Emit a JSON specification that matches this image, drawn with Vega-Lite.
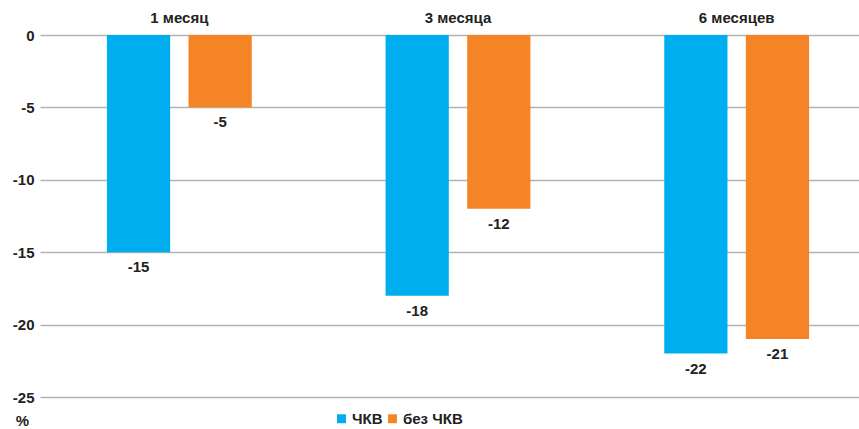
{
  "$schema": "https://vega.github.io/schema/vega-lite/v6.json",
  "autosize": "none",
  "width": 813,
  "height": 362,
  "padding": {"left": 46, "top": 35, "right": 0, "bottom": 32},
  "background": "white",
  "config": {
    "font": "Liberation Sans",
    "view": {"stroke": null},
    "locale": {
      "number": {"decimal": ".", "thousands": ",", "grouping": [3], "currency": ["", ""], "minus": "-"}
    }
  },
  "data": {
    "values": [
      {"period": "1 месяц", "group": "ЧКВ", "value": -15},
      {"period": "1 месяц", "group": "без ЧКВ", "value": -5},
      {"period": "3 месяца", "group": "ЧКВ", "value": -18},
      {"period": "3 месяца", "group": "без ЧКВ", "value": -12},
      {"period": "6 месяцев", "group": "ЧКВ", "value": -22},
      {"period": "6 месяцев", "group": "без ЧКВ", "value": -21}
    ]
  },
  "encoding": {
    "x": {
      "field": "period", "type": "nominal", "sort": null,
      "scale": {"paddingInner": 0, "paddingOuter": 0, "range": [-6, 830]},
      "axis": {
        "orient": "top", "title": null, "labelAngle": 0, "ticks": false, "domain": false,
        "labelFontWeight": "bold", "labelFontSize": 15, "labelColor": "#222222", "labelPadding": 10
      }
    },
    "xOffset": {
      "field": "group", "type": "nominal", "sort": null,
      "scale": {"paddingInner": 0.225, "paddingOuter": 0.82}
    },
    "y": {
      "field": "value", "type": "quantitative",
      "scale": {"domain": [-25, 0], "nice": false},
      "axis": {
        "values": [0, -5, -10, -15, -20, -25],
        "title": "%", "titleAngle": 0, "titleX": -24, "titleY": 385,
        "titleAlign": "center", "titleBaseline": "middle",
        "titleFontSize": 15, "titleFontWeight": "bold", "titleColor": "#222222",
        "ticks": false, "domain": false,
        "labelFontWeight": "bold", "labelFontSize": 15, "labelColor": "#222222", "labelPadding": 12,
        "gridColor": "#b3b3b3", "gridWidth": 1.5
      }
    }
  },
  "layer": [
    {
      "mark": {"type": "bar"},
      "encoding": {
        "color": {
          "field": "group", "type": "nominal", "sort": null,
          "scale": {"domain": ["ЧКВ", "без ЧКВ"], "range": ["#00AEEF", "#F58426"]},
          "legend": {
            "title": null, "orient": "none", "direction": "horizontal",
            "legendX": 288, "legendY": 376,
            "symbolType": "square", "symbolSize": 80, "symbolStrokeWidth": 0,
            "labelFontSize": 15, "labelFontWeight": "bold", "labelColor": "#222222",
            "labelOffset": 3, "columnPadding": 2
          }
        }
      }
    },
    {
      "mark": {"type": "text", "baseline": "top", "dy": 8, "fontSize": 15, "fontWeight": "bold", "color": "#222222"},
      "encoding": {
        "text": {"field": "value", "type": "quantitative"}
      }
    }
  ]
}
